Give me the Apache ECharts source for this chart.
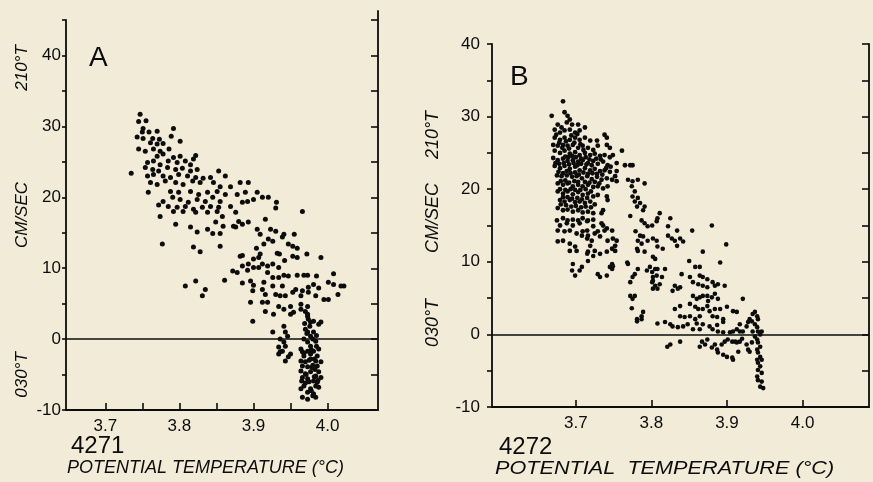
<!DOCTYPE html>
<html>
<head>
<meta charset="UTF-8">
<title>4271 / 4272</title>
<style>
html, body { margin: 0; padding: 0; background: #f1ebd8; }
#chart { width: 873px; height: 482px; }
</style>
</head>
<body>
<div id="chart"></div>
<script src="https://cdn.jsdelivr.net/npm/echarts@6.0.0/dist/echarts.min.js"></script>
<script>
// axis ticks and labels
var tempLabels = [3.7, 3.8, 3.9, 4.0];
var tempTicksA = [3.7, 3.75, 3.8, 3.85, 3.9, 3.95, 4.0];
var tempTicksB = [3.7, 3.8, 3.9, 4.0];
var speedLabels = [-10, 0, 10, 20, 30, 40];
var speedTicksA = [-10, -5, 0, 5, 10, 15, 20, 25, 30, 35, 40, 45];
var speedTicksB = [-10, -5, 0, 5, 10, 15, 20, 25, 30, 35, 40];

// panel A (4271): [potential temperature, cm/sec]
var a_upper = [[3.747,31.7],[3.745,30.7],[3.755,30.8],[3.751,29.7],[3.792,29.7],[3.750,29.2],[3.759,29.2],[3.770,29.3],[3.743,28.5],[3.751,28.3],[3.764,28.3],[3.773,28.2],[3.789,28.6],[3.801,27.9],[3.761,27.7],[3.770,27.5],[3.778,27.6],[3.745,26.8],[3.754,26.5],[3.765,26.8],[3.774,26.5],[3.786,26.8],[3.822,25.9],[3.819,25.4],[3.770,25.8],[3.778,26.1],[3.792,25.6],[3.801,25.8],[3.757,24.9],[3.765,25.1],[3.774,24.6],[3.785,25.1],[3.797,24.9],[3.808,25.1],[3.815,24.6],[3.735,23.4],[3.754,24.2],[3.764,23.9],[3.772,23.7],[3.784,24.2],[3.795,23.9],[3.804,24.1],[3.815,23.7],[3.824,23.9],[3.853,23.7],[3.862,23.0],[3.757,23.0],[3.765,23.2],[3.778,23.0],[3.788,22.8],[3.799,23.2],[3.811,23.0],[3.822,22.8],[3.832,22.7],[3.842,22.8],[3.761,22.1],[3.770,21.8],[3.781,22.3],[3.795,22.1],[3.805,21.8],[3.818,22.3],[3.828,22.1],[3.846,22.1],[3.855,21.5],[3.869,21.5],[3.758,20.7],[3.788,20.8],[3.799,20.7],[3.815,20.8],[3.826,20.4],[3.838,20.7],[3.851,20.8],[3.862,20.4],[3.878,20.4],[3.778,19.4],[3.791,20.0],[3.801,19.7],[3.812,19.3],[3.824,19.7],[3.835,19.4],[3.845,20.0],[3.855,19.4],[3.772,18.9],[3.785,18.7],[3.797,18.6],[3.808,18.7],[3.819,18.3],[3.831,18.6],[3.842,18.7],[3.853,18.6],[3.869,18.7],[3.774,17.3],[3.792,18.0],[3.805,18.0],[3.822,17.9],[3.838,17.9],[3.851,18.0],[3.858,17.3],[3.876,17.9],[3.795,16.2],[3.815,15.8],[3.824,15.1],[3.838,15.5],[3.849,16.5],[3.859,15.9],[3.873,15.9],[3.880,16.6],[3.845,14.9],[3.855,14.9]];

var a_middle = [[3.882,22.1],[3.893,22.1],[3.889,20.7],[3.905,20.7],[3.912,20.0],[3.920,20.0],[3.900,19.7],[3.892,19.4],[3.885,19.3],[3.931,19.3],[3.930,18.5],[3.966,18.0],[3.916,16.9],[3.893,16.5],[3.885,16.2],[3.876,15.8],[3.905,15.5],[3.923,15.5],[3.930,15.2],[3.941,14.8],[3.939,14.4],[3.955,14.8],[3.909,14.8],[3.920,14.1],[3.926,13.8],[3.914,13.4],[3.947,13.4],[3.953,13.1],[3.959,12.8],[3.904,12.8],[3.909,12.0],[3.907,11.5],[3.900,11.3],[3.885,11.8],[3.882,11.7],[3.932,12.1],[3.935,12.0],[3.942,11.1],[3.953,11.7],[3.959,11.5],[3.972,12.0],[3.991,11.5],[3.893,10.6],[3.900,10.1],[3.907,10.1],[3.912,10.6],[3.919,10.3],[3.926,10.6],[3.934,10.1],[3.872,9.6],[3.878,9.4],[3.885,10.3],[3.892,9.7],[3.861,8.3],[3.919,9.4],[3.926,8.7],[3.934,8.7],[3.941,9.0],[3.947,8.9],[3.959,9.0],[3.968,9.0],[3.973,9.0],[3.985,8.9],[4.008,9.2],[3.885,7.9],[3.896,8.2],[3.900,7.6],[3.914,8.0],[3.926,7.5],[3.939,7.5],[3.957,7.0],[3.966,6.8],[3.974,7.3],[3.981,7.7],[3.988,7.2],[4.001,8.0],[4.008,7.7],[4.018,7.5],[4.022,7.5],[3.835,7.0],[3.831,6.1],[3.899,6.8],[3.912,7.0],[3.916,6.3],[3.930,6.3],[3.936,6.1],[3.943,6.1],[3.953,6.6],[3.964,6.1],[3.974,6.6],[3.984,6.1],[3.995,5.6],[4.001,5.6],[4.014,6.3],[3.896,5.2],[3.912,5.2],[3.919,5.2],[3.934,4.6],[3.950,4.6],[3.964,4.9],[3.973,4.6],[3.855,13.1],[3.808,7.5],[3.822,8.2],[3.777,13.4],[3.819,13.0],[3.828,12.3],[3.899,2.5],[3.926,1.0]];

var a_column = [[3.916,3.9],[3.927,3.5],[3.941,4.2],[3.950,3.5],[3.954,3.8],[3.964,4.2],[3.970,3.9],[3.973,3.2],[3.974,2.8],[3.977,2.4],[3.981,2.5],[3.988,2.1],[3.991,2.4],[3.941,1.8],[3.970,1.4],[3.973,1.0],[3.977,0.4],[3.980,0.0],[3.973,-0.4],[3.977,-1.0],[3.984,-0.3],[3.981,1.0],[3.936,0.0],[3.941,-0.4],[3.943,-1.0],[3.934,-1.1],[3.939,-1.7],[3.936,-1.8],[3.950,-2.1],[3.947,-2.5],[3.964,-1.4],[3.966,-1.8],[3.968,-2.4],[3.973,-1.7],[3.977,-2.1],[3.981,-1.7],[3.986,-2.4],[3.988,-1.4],[3.984,-3.1],[3.977,-2.8],[3.970,-3.2],[3.964,-3.1],[3.966,-3.8],[3.973,-3.9],[3.980,-3.7],[3.986,-3.8],[3.991,-3.2],[3.964,-4.5],[3.970,-4.9],[3.977,-4.6],[3.984,-5.2],[3.988,-4.6],[3.991,-5.4],[3.966,-5.4],[3.973,-5.6],[3.981,-5.9],[3.986,-6.1],[3.968,-6.6],[3.977,-7.0],[3.984,-6.6],[3.988,-6.8],[3.964,-7.0],[3.973,-7.5],[3.981,-7.7],[3.966,-8.2],[3.973,-8.5],[3.980,-8.0],[3.984,-8.2],[3.975,-3.0],[3.979,-4.0],[3.971,-5.0],[3.983,-4.3],[3.968,-2.0],[3.975,-6.0],[3.982,-5.3],[3.970,-6.2],[3.978,-1.5],[3.985,-1.0],[3.972,0.8],[3.976,1.8],[3.969,2.2],[3.982,-2.8],[3.987,-5.8],[3.965,-5.9],[3.978,-7.3],[3.973,3.5],[3.968,0.0],[3.985,0.5],[3.943,-3.1],[3.934,-2.1],[3.943,1.0],[3.946,0.4]];

// panel B (4272)
var b_core = [[3.683,32.1],[3.668,30.1],[3.685,30.6],[3.689,30.1],[3.692,29.6],[3.688,29.2],[3.695,28.9],[3.703,28.9],[3.712,28.5],[3.676,28.9],[3.681,28.5],[3.672,28.2],[3.679,27.8],[3.685,28.1],[3.692,28.2],[3.699,27.8],[3.705,28.1],[3.738,27.5],[3.741,27.1],[3.672,27.1],[3.679,26.8],[3.685,27.1],[3.692,26.8],[3.699,27.1],[3.705,26.8],[3.712,27.1],[3.719,26.7],[3.728,26.7],[3.729,26.0],[3.741,26.1],[3.745,25.7],[3.670,26.1],[3.676,26.0],[3.683,26.1],[3.689,26.0],[3.696,26.1],[3.703,25.7],[3.709,26.0],[3.716,25.7],[3.723,25.4],[3.761,25.3],[3.672,25.3],[3.679,25.0],[3.685,25.3],[3.692,24.9],[3.699,25.1],[3.705,24.7],[3.712,25.0],[3.719,24.7],[3.725,24.9],[3.732,24.6],[3.738,24.7],[3.745,24.4],[3.749,24.7],[3.670,24.3],[3.676,24.0],[3.683,24.2],[3.689,23.9],[3.696,24.0],[3.703,23.8],[3.709,24.0],[3.716,23.6],[3.723,23.9],[3.729,23.5],[3.736,23.8],[3.742,23.3],[3.754,23.6],[3.765,23.3],[3.772,23.3],[3.775,23.3],[3.672,23.2],[3.679,22.9],[3.685,23.2],[3.692,22.8],[3.699,23.1],[3.705,22.6],[3.712,22.9],[3.719,22.6],[3.725,22.8],[3.732,22.5],[3.738,22.6],[3.745,22.4],[3.754,22.5],[3.752,21.8],[3.748,21.3],[3.754,21.1],[3.675,21.9],[3.681,21.8],[3.688,21.9],[3.695,21.7],[3.701,21.8],[3.708,21.5],[3.715,21.8],[3.721,21.4],[3.728,21.7],[3.734,21.3],[3.741,21.5],[3.676,20.8],[3.683,20.6],[3.689,20.8],[3.696,20.4],[3.703,20.6],[3.709,20.4],[3.716,20.6],[3.723,20.3],[3.729,20.4],[3.736,20.1],[3.742,20.4],[3.676,19.7],[3.683,19.4],[3.689,19.7],[3.696,19.3],[3.703,19.6],[3.709,19.2],[3.716,19.4],[3.723,19.0],[3.729,19.2],[3.742,18.5],[3.741,19.0],[3.679,18.5],[3.685,18.3],[3.692,18.5],[3.699,18.2],[3.705,18.3],[3.712,18.1],[3.719,18.3],[3.725,17.9],[3.736,17.1],[3.734,16.7],[3.676,17.4],[3.683,17.1],[3.689,17.2],[3.696,16.9],[3.703,17.1],[3.709,16.8],[3.716,16.9],[3.723,16.7],[3.675,15.7],[3.683,16.0],[3.689,15.7],[3.696,15.8],[3.703,15.7],[3.709,16.0],[3.716,15.7],[3.723,15.8],[3.734,15.3],[3.741,14.6],[3.748,14.3],[3.676,14.3],[3.685,14.2],[3.692,14.3],[3.701,13.9],[3.709,14.2],[3.716,13.6],[3.725,13.9],[3.715,13.2],[3.721,12.9],[3.732,13.5],[3.742,12.9],[3.749,13.2],[3.754,12.9],[3.676,12.8],[3.683,12.9],[3.692,12.5],[3.699,12.1],[3.701,11.5],[3.716,11.4],[3.725,11.5],[3.741,11.4],[3.752,11.5],[3.679,15.0],[3.688,15.3],[3.696,15.0],[3.705,15.3],[3.715,15.6],[3.708,13.6],[3.715,14.3],[3.723,14.9],[3.729,14.2],[3.692,11.5],[3.719,12.2],[3.732,11.1],[3.748,11.8],[3.752,12.2],[3.738,14.3],[3.736,15.0],[3.674,27.5],[3.678,26.4],[3.682,25.7],[3.687,26.6],[3.691,25.6],[3.694,27.4],[3.698,26.4],[3.702,27.6],[3.706,26.2],[3.710,25.4],[3.686,24.5],[3.690,24.4],[3.695,24.6],[3.700,24.4],[3.707,24.2],[3.713,24.4],[3.718,24.1],[3.673,23.6],[3.678,23.5],[3.684,23.6],[3.691,23.4],[3.697,23.6],[3.702,23.3],[3.707,23.5],[3.714,23.4],[3.721,23.3],[3.727,24.2],[3.733,24.1],[3.677,22.4],[3.683,22.2],[3.688,22.5],[3.693,22.2],[3.699,22.3],[3.704,22.0],[3.710,22.3],[3.716,22.1],[3.722,22.2],[3.728,22.1],[3.735,22.0],[3.740,22.9],[3.746,23.1],[3.680,21.1],[3.686,21.2],[3.691,20.9],[3.698,21.1],[3.703,21.0],[3.712,21.0],[3.718,20.9],[3.725,21.0],[3.731,20.8],[3.679,20.0],[3.686,19.9],[3.693,20.0],[3.699,19.9],[3.706,19.9],[3.713,20.0],[3.720,19.7],[3.683,18.9],[3.689,18.9],[3.695,18.7],[3.702,18.8],[3.708,18.6],[3.715,18.8],[3.680,17.9],[3.687,17.8],[3.694,17.6],[3.700,17.7],[3.707,17.5],[3.713,17.6],[3.720,17.5]];

var b_tail = [[3.769,21.3],[3.775,21.1],[3.782,21.3],[3.774,20.4],[3.791,20.8],[3.778,19.7],[3.775,19.0],[3.782,18.8],[3.778,18.3],[3.785,18.1],[3.781,17.6],[3.791,17.6],[3.789,17.1],[3.772,16.3],[3.787,15.7],[3.791,15.3],[3.795,14.9],[3.801,15.0],[3.782,12.9],[3.787,12.5],[3.795,12.9],[3.802,13.2],[3.782,11.5],[3.791,11.4],[3.696,9.7],[3.695,8.8],[3.699,8.1],[3.705,8.8],[3.708,9.3],[3.715,11.1],[3.716,10.1],[3.723,10.8],[3.729,8.3],[3.741,8.1],[3.745,9.3],[3.748,9.7],[3.768,9.9],[3.769,9.7],[3.772,7.2],[3.778,5.3],[3.775,4.9],[3.781,2.1],[3.787,2.1],[3.774,3.6],[3.798,9.3],[3.801,8.6],[3.802,7.4],[3.807,8.1],[3.814,7.9],[3.811,16.7],[3.808,16.0],[3.807,15.6],[3.825,16.0],[3.822,14.9],[3.834,14.3],[3.854,14.3],[3.880,15.0],[3.779,14.2],[3.785,13.6],[3.789,13.5],[3.807,12.9],[3.822,13.6],[3.827,13.2],[3.831,12.9],[3.838,13.2],[3.842,12.8],[3.899,12.4],[3.781,11.8],[3.802,10.7],[3.805,10.4],[3.808,12.1],[3.815,11.8],[3.834,12.2],[3.868,11.4],[3.749,9.4],[3.748,9.0],[3.782,9.0],[3.794,8.8],[3.805,9.0],[3.808,9.0],[3.818,9.0],[3.802,7.9],[3.732,7.9],[3.778,8.3],[3.775,7.9],[3.840,8.3],[3.851,7.9],[3.864,8.1],[3.868,7.9],[3.874,7.6],[3.850,10.1],[3.858,9.3],[3.864,9.3],[3.891,9.9],[3.801,7.2],[3.805,6.7],[3.811,6.9],[3.802,6.3],[3.808,6.3],[3.831,6.7],[3.835,6.3],[3.828,6.0],[3.838,6.5],[3.855,7.2],[3.862,6.9],[3.868,6.7],[3.874,6.5],[3.881,7.2],[3.884,6.7],[3.888,6.9],[3.897,6.7],[3.772,5.3],[3.855,5.3],[3.860,4.9],[3.864,5.1],[3.868,5.3],[3.874,5.3],[3.875,4.6],[3.880,5.1],[3.884,5.6],[3.888,4.9],[3.838,3.9],[3.831,3.5],[3.851,4.2],[3.858,3.8],[3.862,3.5],[3.868,3.5],[3.874,3.9],[3.877,3.2],[3.884,3.5],[3.891,3.5],[3.900,3.8],[3.789,3.1],[3.787,2.5],[3.781,1.8],[3.838,2.5],[3.844,2.4],[3.851,2.5],[3.858,2.1],[3.864,2.5],[3.881,2.5],[3.887,2.4],[3.895,2.1],[3.808,1.5],[3.818,1.7],[3.825,1.4],[3.828,1.1],[3.835,1.0],[3.842,1.1],[3.848,1.4],[3.860,1.5],[3.868,1.4],[3.877,1.1],[3.887,1.3],[3.895,1.7],[3.855,0.7],[3.864,0.7],[3.881,0.7],[3.888,0.4],[3.895,0.3],[3.821,-1.7],[3.825,-1.4],[3.838,-1.0]];

var b_column = [[3.921,4.9],[3.908,3.2],[3.913,3.1],[3.937,3.1],[3.940,2.5],[3.941,2.1],[3.937,1.4],[3.940,1.0],[3.941,0.4],[3.934,0.4],[3.928,1.7],[3.930,2.1],[3.933,1.8],[3.926,1.1],[3.917,1.4],[3.913,0.7],[3.917,0.4],[3.921,0.4],[3.908,0.4],[3.904,0.3],[3.867,-1.0],[3.871,-1.4],[3.874,-0.7],[3.864,-1.7],[3.880,-1.8],[3.887,-2.1],[3.888,-2.5],[3.884,-1.4],[3.893,-1.4],[3.897,-1.0],[3.901,-0.7],[3.907,-1.0],[3.911,-1.0],[3.917,-1.0],[3.913,-1.1],[3.920,-0.6],[3.900,-3.1],[3.907,-3.2],[3.908,-3.5],[3.895,-2.8],[3.915,-2.4],[3.926,-1.4],[3.928,-2.1],[3.930,-2.4],[3.940,-0.7],[3.941,-1.1],[3.944,-1.7],[3.940,-2.1],[3.941,-2.5],[3.944,-3.1],[3.946,-3.5],[3.940,-3.5],[3.941,-3.9],[3.944,-4.4],[3.941,-4.9],[3.946,-5.3],[3.940,-5.8],[3.941,-6.3],[3.946,-6.5],[3.944,-7.2],[3.948,-7.4],[3.933,-1.1],[3.937,-0.3],[3.944,0.0],[3.934,2.8],[3.946,0.4]];

var ink = '#0c0c0c';
var fontName = '"Liberation Sans", Arial, sans-serif';

var chart = echarts.init(document.getElementById('chart'));

function tempAxis(grid, min, max, ticks) {
    return {
        gridIndex: grid, type: 'value', min: min, max: max,
        axisLine: { show: true, onZero: false, lineStyle: { color: ink, width: 1.8 } },
        axisTick: { show: true, inside: true, length: 7, customValues: ticks, lineStyle: { color: ink, width: 1.6 } },
        axisLabel: {
            customValues: tempLabels, margin: 8, color: ink, fontSize: 17, fontFamily: fontName,
            formatter: function (v) { return v.toFixed(1); }
        },
        splitLine: { show: false }
    };
}

function speedAxis(grid, pos, max, ticks, labels, inside, tickLen, margin) {
    return {
        gridIndex: grid, type: 'value', position: pos, min: -10, max: max,
        axisLine: { show: true, onZero: false, lineStyle: { color: ink, width: 1.8 } },
        axisTick: { show: true, inside: inside, length: tickLen, customValues: ticks, lineStyle: { color: ink, width: 1.6 } },
        axisLabel: labels ? { customValues: labels, margin: margin, color: ink, fontSize: 17, fontFamily: fontName } : { show: false },
        splitLine: { show: false }
    };
}

function zeroLine() {
    return {
        silent: true, symbol: 'none', label: { show: false },
        lineStyle: { color: ink, width: 1.6, type: 'solid' },
        data: [{ yAxis: 0 }]
    };
}

function dots(data, xi, yi, size) {
    return {
        type: 'scatter', xAxisIndex: xi, yAxisIndex: yi, data: data,
        symbol: 'circle', symbolSize: size, itemStyle: { color: ink, opacity: 1 }, silent: true
    };
}

function txt(x, y, s, font, extra) {
    var el = { type: 'text', x: x, y: y, silent: true,
        style: { text: s, font: font, fill: ink, align: 'left', verticalAlign: 'top' } };
    if (extra) { for (var k in extra) { if (k === 'style') { for (var j in extra.style) el.style[j] = extra.style[j]; } else el[k] = extra[k]; } }
    return el;
}

function side(x, y, s, size) {
    return txt(x, y, s, 'italic ' + size + 'px ' + fontName,
        { rotation: Math.PI / 2, style: { align: 'center', verticalAlign: 'middle' } });
}

chart.setOption({
    backgroundColor: '#f1ebd8',
    animation: false,
    grid: [
        { left: 66, right: 495, top: 20, bottom: 72 },
        { left: 66, right: 495, top: 11, bottom: 72 },
        { left: 492, right: 4, top: 44, bottom: 75 }
    ],
    xAxis: [
        tempAxis(0, 3.647, 4.068, tempTicksA),
        { gridIndex: 1, type: 'value', min: 3.647, max: 4.068, show: false },
        tempAxis(2, 3.589, 4.088, tempTicksB)
    ],
    yAxis: [
        speedAxis(0, 'left', 45, speedTicksA, speedLabels, false, 4, 5),
        speedAxis(1, 'right', 46.3, speedTicksA, null, true, 7, 0),
        speedAxis(2, 'left', 40, speedTicksB, speedLabels, false, 5, 12),
        speedAxis(2, 'right', 40, speedTicksB, null, true, 7, 0)
    ],
    series: [
        Object.assign(dots(a_upper, 0, 0, 5), { markLine: zeroLine() }),
        dots(a_middle, 0, 0, 5),
        dots(a_column, 0, 0, 5),
        Object.assign(dots(b_core, 2, 2, 4.8), { markLine: zeroLine() }),
        dots(b_tail, 2, 2, 4.6),
        dots(b_column, 2, 2, 4.6)
    ],
    graphic: [
        txt(89, 44, 'A', '28px ' + fontName),
        txt(510, 63, 'B', '28px ' + fontName),
        txt(71, 434, '4271', '24px ' + fontName),
        txt(499, 435, '4272', '24px ' + fontName),
        txt(67, 459, 'POTENTIAL TEMPERATURE (°C)', 'italic 18px ' + fontName),
        txt(495, 459, 'POTENTIAL  TEMPERATURE (°C)', 'italic 19px ' + fontName, { scaleX: 1.14 }),
        side(22, 68, '210°T', 17),
        side(22, 215, 'CM/SEC', 17),
        side(22, 375, '030°T', 17),
        side(433, 135, '210°T', 18),
        side(433, 218, 'CM/SEC', 18),
        side(433, 323, '030°T', 18)
    ]
});
</script>
</body>
</html>
